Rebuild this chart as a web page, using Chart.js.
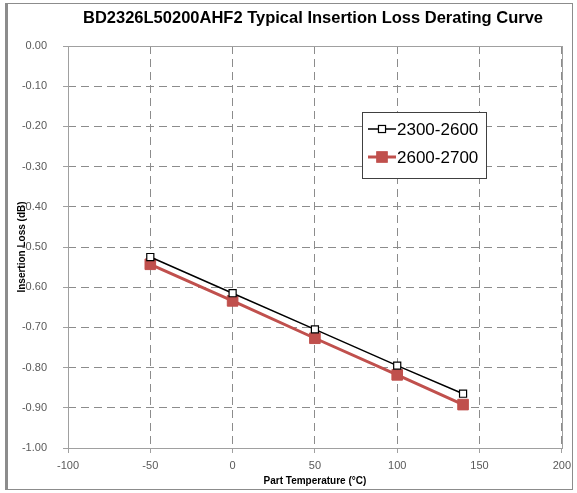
<!DOCTYPE html>
<html>
<head>
<meta charset="utf-8">
<script src="https://cdn.jsdelivr.net/npm/chart.js@4/dist/chart.umd.min.js"></script>
<style>
  html, body { margin: 0; padding: 0; background: #fff; }
  #wrap { position: relative; width: 577px; height: 493px; }
  #frame { position: absolute; left: 5px; top: 3px; width: 564px; height: 485px;
           border: 1px solid #8c8c8c; border-left: 3px solid #8c8c8c; }
  canvas { position: absolute; left: 0; top: 0; }
</style>
</head>
<body>
<div id="wrap">
  <div id="frame"></div>
  <canvas id="lossChart" width="577" height="493"></canvas>
</div>
<script>
// datos
const temps = [-50, 0, 50, 100, 140];
const loss2300 = [-0.525, -0.615, -0.705, -0.795, -0.865];
const loss2600 = [-0.543, -0.634, -0.727, -0.818, -0.892];
const seriesNames = ['2300-2600', '2600-2700'];
const xTicks = [-100, -50, 0, 50, 100, 150, 200];
const yTicks = [0, -0.1, -0.2, -0.3, -0.4, -0.5, -0.6, -0.7, -0.8, -0.9, -1.0];
const chartTitle = 'BD2326L50200AHF2 Typical Insertion Loss Derating Curve';

const FONT = "'Liberation Sans', Arial, sans-serif";
const GRID = '#8c8c8c';

const toPoints = (ys) => temps.map((t, i) => ({ x: t, y: ys[i] }));

// marco del area de trazado (borde solido) + titulo centrado sobre el area
const plotFrame = {
  id: 'plotFrame',
  beforeDatasetsDraw(chart) {
    const { ctx, chartArea: a } = chart;
    ctx.save();
    ctx.strokeStyle = '#a0a0a0';
    ctx.lineWidth = 1;
    ctx.strokeRect(Math.round(a.left) + 0.5, Math.round(a.top) + 0.5,
                   Math.round(a.right - a.left), Math.round(a.bottom - a.top));
    ctx.fillStyle = '#000';
    ctx.font = 'bold 16.5px ' + FONT;
    ctx.textAlign = 'center';
    ctx.textBaseline = 'middle';
    ctx.fillText(chartTitle, 313, 18);
    ctx.restore();
  }
};

// leyenda en caja dentro del grafico
const boxLegend = {
  id: 'boxLegend',
  afterDraw(chart) {
    const { ctx } = chart;
    const bx = 362, by = 112, bw = 124, bh = 66;
    ctx.save();
    ctx.fillStyle = '#fff';
    ctx.fillRect(bx, by, bw, bh);
    ctx.strokeStyle = '#404040';
    ctx.lineWidth = 1;
    ctx.strokeRect(bx + 0.5, by + 0.5, bw, bh);
    chart.data.datasets.forEach((ds, i) => {
      const y = by + 17 + i * 28;
      ctx.strokeStyle = ds.borderColor;
      ctx.lineWidth = ds.borderWidth;
      ctx.beginPath();
      ctx.moveTo(bx + 6, y);
      ctx.lineTo(bx + 34, y);
      ctx.stroke();
      ctx.fillStyle = ds.pointBackgroundColor;
      ctx.strokeStyle = ds.pointBorderColor;
      ctx.lineWidth = ds.pointBorderWidth;
      const s = ds.pointRadius * Math.SQRT1_2;
      ctx.fillRect(bx + 20 - s, y - s, 2 * s, 2 * s);
      ctx.strokeRect(bx + 20 - s, y - s, 2 * s, 2 * s);
      ctx.fillStyle = '#000';
      ctx.font = '17px ' + FONT;
      ctx.textAlign = 'left';
      ctx.textBaseline = 'middle';
      ctx.fillText(ds.label, bx + 35, y + 1);
    });
    ctx.restore();
  }
};

new Chart(document.getElementById('lossChart'), {
  type: 'scatter',
  data: {
    datasets: [
      {
        label: seriesNames[0],
        data: toPoints(loss2300),
        showLine: true,
        borderColor: '#000000',
        borderWidth: 1.5,
        pointStyle: 'rect',
        pointRadius: 5,
        pointBorderWidth: 1.2,
        pointBackgroundColor: '#ffffff',
        pointBorderColor: '#000000',
        order: 1
      },
      {
        label: seriesNames[1],
        data: toPoints(loss2600),
        showLine: true,
        borderColor: '#c0504d',
        borderWidth: 3,
        pointStyle: 'rect',
        pointRadius: 7.5,
        pointBorderWidth: 1,
        pointBackgroundColor: '#c0504d',
        pointBorderColor: '#c0504d',
        order: 2
      }
    ]
  },
  options: {
    responsive: false,
    animation: false,
    layout: { padding: { left: 0, right: 10, top: 46, bottom: 0 } },
    plugins: {
      legend: { display: false },
      tooltip: { enabled: false },
      title: { display: false }
    },
    scales: {
      x: {
        type: 'linear',
        min: -100,
        max: 200,
        afterBuildTicks: (scale) => { scale.ticks = xTicks.map(v => ({ value: v })); },
        afterFit: (scale) => { scale.height = 45; },
        ticks: { color: '#595959', font: { family: FONT, size: 11 }, padding: 6 },
        grid: { color: GRID, tickColor: '#a0a0a0', tickLength: 5 },
        border: { display: false, dash: [8, 5] },
        title: {
          display: true,
          text: 'Part Temperature (°C)',
          color: '#000',
          font: { family: FONT, size: 10, weight: 'bold' },
          padding: { top: 0, bottom: 6 }
        }
      },
      y: {
        type: 'linear',
        min: -1,
        max: 0,
        afterBuildTicks: (scale) => { scale.ticks = yTicks.map(v => ({ value: v })); },
        afterFit: (scale) => { scale.width = 68; },
        ticks: {
          color: '#595959',
          font: { family: FONT, size: 11 },
          padding: 16,
          callback: (v) => Number(v).toFixed(2)
        },
        grid: { color: GRID, tickColor: '#a0a0a0', tickLength: 5 },
        border: { display: false, dash: [8, 5] },
        title: {
          display: true,
          text: 'Insertion Loss (dB)',
          color: '#000',
          font: { family: FONT, size: 10, weight: 'bold' },
          padding: { top: 16, bottom: 0 }
        }
      }
    }
  },
  plugins: [plotFrame, boxLegend]
});
</script>
</body>
</html>
